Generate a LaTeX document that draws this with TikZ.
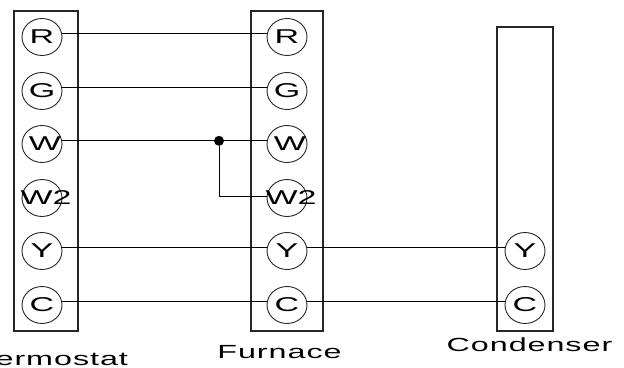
\documentclass[tikz,border=0pt]{standalone}
\usepackage{fontspec}
\setmainfont{Liberation Sans}
\newfontfamily\termfont[FakeStretch=1.7]{Liberation Sans}
\newfontfamily\labelfont[FakeStretch=1.7,LetterSpace=5]{Liberation Sans}
\usetikzlibrary{shapes.geometric}
\tikzset{
  strip/.style={draw=black!85,line width=1.1pt},
  term/.style={draw=black!85,line width=0.9pt,ellipse,minimum width=40pt,minimum height=37pt,inner sep=0pt,text width=0pt,align=center,font=\termfont\fontsize{20}{20}\selectfont},
  wire/.style={draw=black,line width=1pt},
  joint/.style={circle,fill=black,inner sep=0pt,minimum size=10pt},
  caption/.style={inner sep=0pt,anchor=base,font=\labelfont\fontsize{19}{19}\selectfont}
}
\newcommand{\termtext}[2]{\hbox to 0pt{\hss\kern#2pt\kern#2pt#1\hss}}
\begin{document}
\begin{tikzpicture}[x=1pt,y=-1pt]
\useasboundingbox (0,0) rectangle (624,367);
\clip (0,0) rectangle (624,367);
\fill[white] (0,0) rectangle (624,367);
\draw[strip] (14,11) rectangle (78,331);
\draw[strip] (251,11) rectangle (323,331);
\draw[strip] (497,27) rectangle (553,331);
\foreach \n/\t/\y/\d in {r/R/37/0,g/G/91/0,w/W/144/3,v/W2/198/4,y/Y/251/0,c/C/305/0}{
  \node[term] (a\n) at (42,\y) {\termtext{\t}{\d}};
  \node[term] (b\n) at (287,\y) {\termtext{\t}{\d}};
}
\node[term] (dy) at (525,251) {\termtext{Y}{0}};
\node[term] (dc) at (525,305) {\termtext{C}{0}};
\coordinate (jx) at (219,0);
\node[joint] (j) at (aw.9 -| jx) {};
\draw[wire] (ar.9) -- (br.171);
\draw[wire] (ag.9) -- (bg.171);
\draw[wire] (aw.9) -- (j) -- (bw.171);
\draw[wire] (j) |- (bv.177);
\draw[wire] (ay.9) -- (by.171);
\draw[wire] (ac.9) -- (bc.171);
\draw[wire] (by.9) -- (dy.171);
\draw[wire] (bc.9) -- (dc.171);
\node[caption] (lt) at (42,365) {Thermostat};
\node[caption] (lf) at (279.5,358) {Furnace};
\node[caption] (lc) at (529.5,351) {Condenser};
\end{tikzpicture}
\end{document}
